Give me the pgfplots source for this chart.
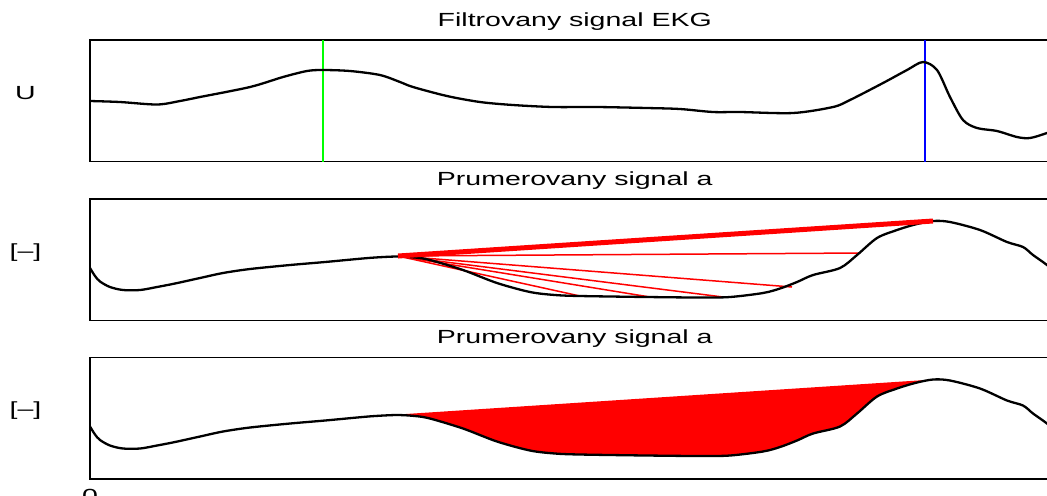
\documentclass[border=0pt]{standalone}
\usepackage{pgfplots}
\pgfplotsset{compat=1.18}
\usepackage{pgfplotstable}
\usepgfplotslibrary{fillbetween}
\usepackage{fontspec}
\setmainfont[FakeStretch=1.5]{Liberation Sans}

\pgfplotstableread{
x y
0 60.5
30 59.5
67 57
90 60.5
110 64.5
160 74.5
193 84.5
217 90.5
233 91.5
260 90.5
290 86.5
310 79.5
323 74.5
357 65.5
390 59.5
423 56.5
463 54.5
507 54.5
557 53.5
590 52.5
623 49.5
650 49.5
703 48.5
743 54.5
760 61.5
793 78.5
817 91.5
833 99.5
847 91.5
860 64.5
873 41.5
887 33.5
907 30.5
927 24.5
940 23.5
957 28.5
969.5 33.5
}\ekg

\pgfplotstableread{
x y
0 52.5
5 44.5
10 39
20 33.5
33 30.5
50 30.5
67 33.5
85 37
110 42.5
133 47.5
160 51.5
200 55.5
235 58.5
267 61.5
285 63
307 64
325 63
340 60.5
373 50.5
407 37.5
440 28.5
465 25.5
490 24.5
557 23.5
610 23
640 23.5
673 27.5
690 32
707 38.5
723 45.5
750 52.5
767 65.5
787 82.5
807 90.5
825 96
843 99.5
860 98.5
890 90.5
917 78.5
933 73.5
943 65.5
957 55.5
969.5 44.5
}\avg

\begin{document}
\begin{tikzpicture}
\pgfplotsset{
  panel/.style={
    scale only axis, width=484.75pt, height=60.75pt,
    xmin=0, xmax=969.5, ymin=0, ymax=121.5,
    xtick=\empty, ytick=\empty,
    axis line style={line width=0.8pt},
    font=\fontsize{9.5}{11}\selectfont,
    title style={anchor=base, yshift=0.8pt, inner sep=0pt},
    every axis y label/.style={at={(rel axis cs:0,0.5)}, anchor=center, xshift=-32.25pt, yshift=3.7pt},
    anchor=south west,
    /pgf/number format/assume math mode=true,
  },
  sig/.style={black, line width=1.15pt, smooth, tension=0.5},
}

% Panel 1
\begin{axis}[panel, at={(45pt,-80.75pt)}, title={Filtrovany signal EKG}, ylabel={U}]
\addplot[green, line width=1.25pt] coordinates {(233,0) (233,121.5)};
\addplot[blue, line width=1.25pt] coordinates {(835,0) (835,121.5)};
\addplot[sig] table[x=x,y=y] {\ekg};
\end{axis}

% Panel 2
\begin{axis}[panel, at={(45pt,-160.25pt)}, title={Prumerovany signal a}, ylabel={[--]}]
\addplot[red, line width=0.75pt] coordinates {(308,64.5) (490,24.5)};
\addplot[red, line width=0.75pt] coordinates {(308,64.5) (560,23.5)};
\addplot[red, line width=0.75pt] coordinates {(308,64.5) (633,23.5)};
\addplot[red, line width=0.75pt] coordinates {(308,64.5) (702,33.5)};
\addplot[red, line width=0.75pt] coordinates {(308,64.5) (770,67.5)};
\addplot[sig] table[x=x,y=y] {\avg};
\addplot[red, line width=2.5pt] coordinates {(308,64.5) (843,99.5)};
\end{axis}

% Panel 3
\begin{axis}[panel, at={(45pt,-239.5pt)}, title={Prumerovany signal a}, ylabel={[--]},
  xtick={0}, xticklabels={0}, major tick length=0pt,
  xticklabel style={anchor=north, yshift=-1.7pt}]
\addplot[draw=none, name path=ch] coordinates {(308,64.5) (843,99.5)};
\addplot[sig, name path=cv] table[x=x,y=y] {\avg};
\addplot[red] fill between[of=cv and ch, soft clip={domain=308:843}];
\end{axis}

\pgfresetboundingbox
\useasboundingbox (0pt,0pt) rectangle (523.5pt,-247.5pt);
\end{tikzpicture}
\end{document}
